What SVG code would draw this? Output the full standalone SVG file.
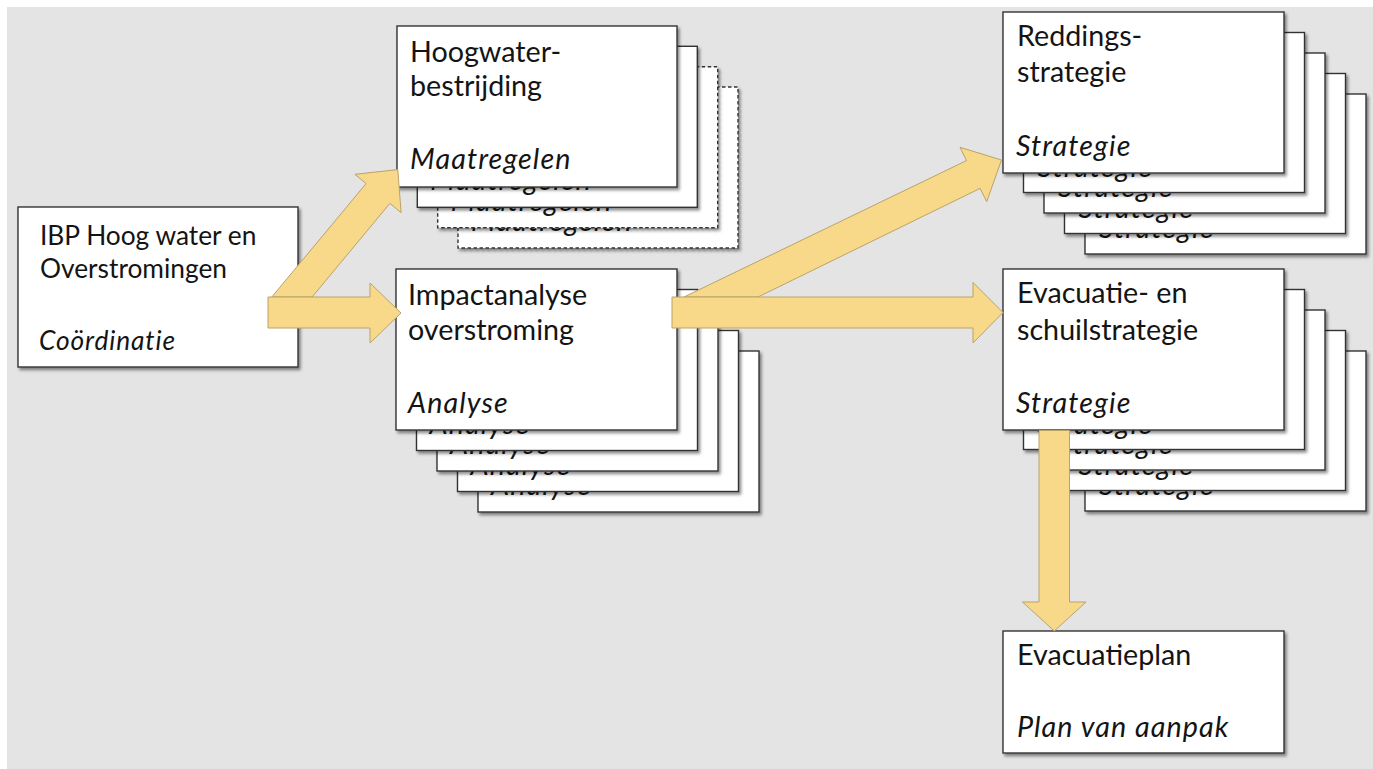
<svg xmlns="http://www.w3.org/2000/svg" width="1373" height="769" viewBox="0 0 1373 769">
<defs>
<filter id="sh" x="-5%" y="-5%" width="115%" height="120%">
<feDropShadow dx="2" dy="2.5" stdDeviation="1.6" flood-color="#000" flood-opacity="0.45"/>
</filter>
<style>
.box{fill:#fff;stroke:#333;stroke-width:1.4;filter:url(#sh)}
.dash{stroke-dasharray:3.5 2.5}
.t{font-family:Lato,"Liberation Sans",sans-serif;font-size:28.7px;fill:#141414}
.i{font-style:italic;letter-spacing:1.1px}
.s{font-size:26.3px}
.s.i{letter-spacing:0.9px}
.arr{fill:#f8d98a;stroke:#b9a36a;stroke-width:1;stroke-linejoin:miter}
</style>
</defs>
<rect x="0" y="0" width="1373" height="769" fill="#fff"/>
<rect x="7" y="7" width="1366" height="762" fill="#e4e4e4"/>

<g id="node-ibp">
<rect class="box" x="18" y="207" width="280" height="160"/>
<text class="t s" x="40" y="245">IBP Hoog water en</text>
<text class="t s" x="40" y="278">Overstromingen</text>
<text class="t s i" x="39" y="350">Coördinatie</text>
</g>

<g id="node-hoogwater">
<rect class="box dash" x="458" y="87" width="280" height="161"/>
<text class="t i" x="471" y="231">Maatregelen</text>
<rect class="box dash" x="437.7" y="66.7" width="280" height="161"/>
<text class="t i" x="450.7" y="210.7">Maatregelen</text>
<rect class="box" x="417.3" y="46.3" width="280" height="161"/>
<text class="t i" x="430.3" y="190.3">Maatregelen</text>
<rect class="box" x="397" y="26" width="280" height="161"/>
<text class="t" x="410" y="62">Hoogwater-</text>
<text class="t" x="410" y="96">bestrijding</text>
<text class="t i" x="410" y="169">Maatregelen</text>
</g>

<g id="node-impact">
<rect class="box" x="478" y="351" width="281" height="161"/>
<text class="t i" x="491" y="495">Analyse</text>
<rect class="box" x="457.5" y="330.5" width="281" height="161"/>
<text class="t i" x="470.5" y="474.5">Analyse</text>
<rect class="box" x="437" y="310" width="281" height="161"/>
<text class="t i" x="450" y="454">Analyse</text>
<rect class="box" x="416.5" y="289.5" width="281" height="161"/>
<text class="t i" x="429.5" y="433.5">Analyse</text>
<rect class="box" x="396" y="269" width="281" height="161"/>
<text class="t" x="408" y="305">Impactanalyse</text>
<text class="t" x="408" y="340">overstroming</text>
<text class="t i" x="408" y="413">Analyse</text>
</g>

<g id="node-reddings">
<rect class="box" x="1085" y="94" width="281" height="160"/>
<text class="t i" x="1099" y="238">Strategie</text>
<rect class="box" x="1064.5" y="73.5" width="281" height="160"/>
<text class="t i" x="1078.5" y="217.5">Strategie</text>
<rect class="box" x="1044" y="53" width="281" height="160"/>
<text class="t i" x="1058" y="197">Strategie</text>
<rect class="box" x="1023.5" y="32.5" width="281" height="160"/>
<text class="t i" x="1037.5" y="176.5">Strategie</text>
<rect class="box" x="1003" y="12" width="281" height="161"/>
<text class="t" x="1017" y="46">Reddings-</text>
<text class="t" x="1017" y="82">strategie</text>
<text class="t i" x="1016" y="156">Strategie</text>
</g>

<g id="node-evacuatie">
<rect class="box" x="1085" y="351" width="281" height="160"/>
<text class="t i" x="1099" y="495">Strategie</text>
<rect class="box" x="1064.5" y="330.5" width="281" height="160"/>
<text class="t i" x="1078.5" y="474.5">Strategie</text>
<rect class="box" x="1044" y="310" width="281" height="160"/>
<text class="t i" x="1058" y="454">Strategie</text>
<rect class="box" x="1023.5" y="289.5" width="281" height="160"/>
<text class="t i" x="1037.5" y="433.5">Strategie</text>
<rect class="box" x="1003" y="269" width="281" height="161"/>
<text class="t" x="1017" y="303">Evacuatie- en</text>
<text class="t" x="1017" y="340">schuilstrategie</text>
<text class="t i" x="1016" y="413">Strategie</text>
</g>

<g id="node-evacuatieplan">
<rect class="box" x="1003" y="631" width="281" height="122"/>
<text class="t" x="1017" y="665">Evacuatieplan</text>
<text class="t i" x="1017" y="737">Plan van aanpak</text>
</g>

<g id="connectors">
<polygon class="arr" points="271.8,297 366.1,183.6 354.9,174.3 397.8,169.6 401.1,212.7 389.9,203.4 312.1,297"/>
<polygon class="arr" points="268,297 370,297 370,283 401,313 370,343 370,328 268,328"/>
<polygon class="arr" points="684,297 966.5,160.6 960,147.3 1001.5,160 986.7,201.7 980.1,188.4 758,297"/>
<polygon class="arr" points="672,297 973,297 973,282.5 1003,312.5 973,343 973,328 672,328"/>
<polygon class="arr" points="1039,430.5 1069.5,430.5 1069.5,602 1086,602 1054.3,631 1022.5,602 1039,602"/>
</g>
</svg>
